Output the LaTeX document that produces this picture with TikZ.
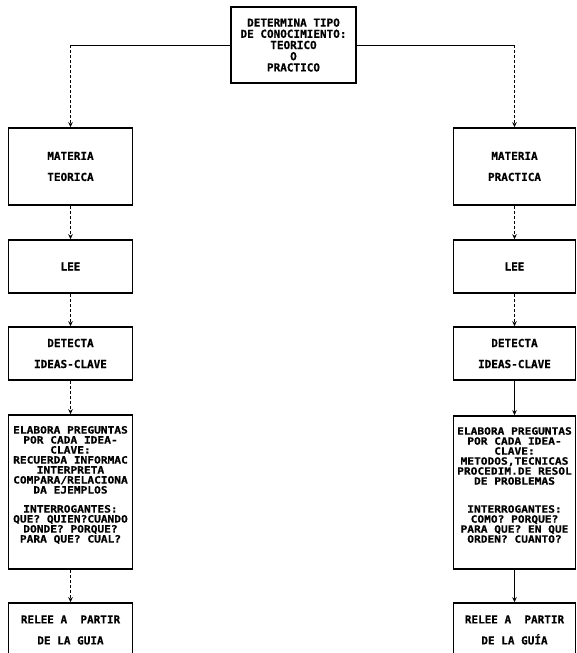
\documentclass[tikz,border=0pt]{standalone}
\usepackage{fontspec}
\newfontfamily\boxfont{DejaVu Sans Mono}[BoldFeatures={FakeBold=0.6}]
\newfontfamily\denseboxfont{DejaVu Sans Mono}[FakeStretch=1.12, BoldFeatures={FakeBold=0.6, FakeStretch=1.12}]
\usetikzlibrary{arrows.meta}
\begin{document}
\begin{tikzpicture}[x=1pt,y=-1pt,
  box/.style={draw, line width=1.6pt, inner sep=0pt, align=center},
  lbox/.style={box, minimum width=124pt},
  rbox/.style={box, minimum width=122pt},
  t11/.style={font=\boxfont\bfseries\fontsize{11}{11.2}\selectfont},
  t21/.style={font=\boxfont\bfseries\fontsize{11}{21}\selectfont},
  tdense/.style={inner sep=0pt, align=center, font=\denseboxfont\bfseries\fontsize{10}{10}\selectfont},
  conn/.style={line width=0.9pt},
  dsh/.style={conn, dash pattern=on 3pt off 2pt},
  tip/.style={-{Stealth[length=5pt,width=4.5pt]}}]
\clip (0,0) rectangle (576,653);
% top
\node[box, t11, minimum width=125pt, minimum height=76pt] (top) at (293.5,45)
  {DETERMINA TIPO\\DE CONOCIMIENTO:\\TEORICO\\O\\PRACTICO};
% left column
\node[lbox, t21, minimum height=77pt] (mt) at (70.5,166.5) {MATERIA\\TEORICA};
\node[lbox, t21, minimum height=53pt] (lee1) at (70.5,266.5) {LEE};
\node[lbox, t21, minimum height=53pt] (det1) at (70.5,353.5) {DETECTA\\IDEAS-CLAVE};
\node[lbox, minimum height=154pt] (ela1) at (70.5,492) {};
\node[tdense] (ela1t) at (70.5,485) {ELABORA PREGUNTAS\\POR CADA IDEA-\\CLAVE:\\RECUERDA INFORMAC\\INTERPRETA\\COMPARA/RELACIONA\\DA EJEMPLOS\\[9pt]INTERROGANTES:\\QUE? QUIEN?CUANDO\\DONDE? PORQUE?\\PARA QUE? CUAL?};
\node[lbox, t21, minimum height=54pt] (rel1) at (70.5,630) {RELEE A~~PARTIR\\DE LA GUIA};
% right column
\node[rbox, t21, minimum height=77pt] (mp) at (514.5,166.5) {MATERIA\\PRACTICA};
\node[rbox, t21, minimum height=53pt] (lee2) at (514.5,266.5) {LEE};
\node[rbox, t21, minimum height=53pt] (det2) at (514.5,353.5) {DETECTA\\IDEAS-CLAVE};
\node[rbox, minimum height=153pt] (ela2) at (514.5,492.5) {};
\node[tdense] (ela2t) at (514.5,485) {ELABORA PREGUNTAS\\POR CADA IDEA-\\CLAVE:\\METODOS,TECNICAS\\PROCEDIM.DE RESOL\\DE PROBLEMAS\\[18pt]INTERROGANTES:\\COMO? PORQUE?\\PARA QUE? EN QUE\\ORDEN? CUANTO?};
\node[rbox, t21, minimum height=54pt] (rel2) at (514.5,630) {RELEE A~~PARTIR\\DE LA GUÍA};
% connectors from top
\coordinate (cl) at (mt.north |- top.west);
\coordinate (cr) at (mp.north |- top.east);
\draw[conn] (top.west) -- (cl);
\draw[dsh, tip] (cl) -- (mt.north);
\draw[conn] (top.east) -- (cr);
\draw[dsh, tip] (cr) -- (mp.north);
% left chain
\draw[dsh, tip] (mt.south) -- (lee1.north);
\draw[dsh, tip] (lee1.south) -- (det1.north);
\draw[dsh, tip] (det1.south) -- (ela1.north);
\draw[dsh, tip] (ela1.south) -- (rel1.north);
% right chain
\draw[dsh, tip] (mp.south) -- (lee2.north);
\draw[dsh, tip] (lee2.south) -- (det2.north);
\draw[conn, tip] (det2.south) -- (ela2.north);
\draw[conn, tip] (ela2.south) -- (rel2.north);
\end{tikzpicture}
\end{document}
